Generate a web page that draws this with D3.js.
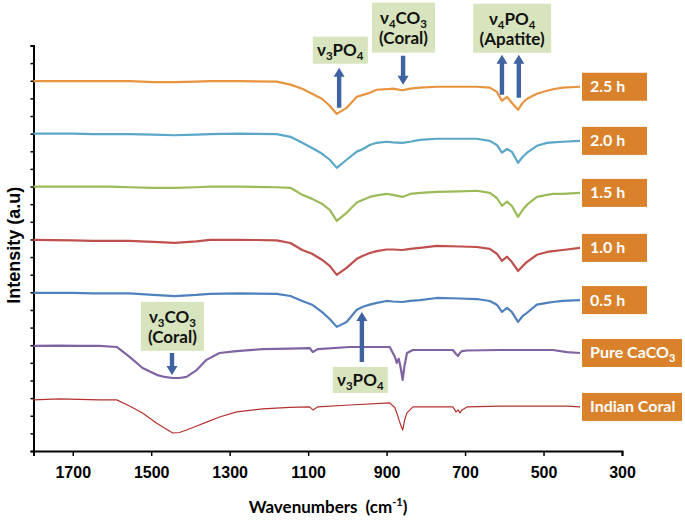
<!DOCTYPE html>
<html><head><meta charset="utf-8">
<script src="https://cdn.jsdelivr.net/npm/d3@7"></script>
<style>body{margin:0;background:#fff}svg{display:block}</style>
</head><body>
<svg id="chart" width="685" height="527"></svg>
<script>
// ---------- DATA ----------
const wnApatite = [1800,1700,1650,1605,1555,1495,1440,1385,1350,1275,1180,1145,1115,1090,1065,1045,1027,1002,976,960,943,925,900,884,860,840,815,772,713,670,637,619,606,593,581,565,553,542,517,491,476,451,407];
const h25 = [20.98,20.98,20.98,20.98,20.98,20.92,20.92,20.95,20.98,20.98,20.95,20.78,20.55,20.26,19.98,19.58,19.12,19.46,20.09,20.20,20.32,20.49,20.52,20.55,20.46,20.55,20.61,20.66,20.66,20.66,20.61,20.37,19.87,20.09,19.75,19.35,19.75,19.98,20.26,20.43,20.52,20.61,20.66];
const h20 = [18.00,18.00,17.97,17.97,17.97,17.94,17.91,17.94,17.97,18.00,17.97,17.82,17.48,17.19,16.87,16.52,16.06,16.52,16.98,17.13,17.36,17.48,17.54,17.51,17.48,17.54,17.65,17.71,17.71,17.71,17.59,17.36,16.92,17.13,16.98,16.35,16.69,16.92,17.31,17.48,17.51,17.54,17.59];
const h15 = [14.99,14.99,14.99,14.99,14.96,14.93,14.93,14.96,14.99,14.99,14.96,14.93,14.53,14.30,14.03,13.68,13.05,13.51,14.09,14.25,14.41,14.50,14.58,14.53,14.41,14.58,14.64,14.70,14.73,14.76,14.64,14.35,13.91,14.14,13.91,13.28,13.68,13.97,14.41,14.53,14.58,14.58,14.64];
const h10 = [11.98,11.95,11.92,11.92,11.92,11.86,11.80,11.89,11.98,11.98,11.95,11.80,11.40,11.19,10.85,10.50,9.99,10.39,10.90,11.08,11.23,11.34,11.43,11.43,11.40,11.46,11.52,11.63,11.60,11.57,11.46,11.19,10.79,11.02,10.73,10.21,10.50,10.73,11.13,11.29,11.34,11.40,11.52];
const h05 = [8.97,8.97,8.94,8.94,8.94,8.85,8.79,8.85,8.91,8.94,8.91,8.79,8.51,8.30,7.89,7.49,7.04,7.32,8.01,8.18,8.30,8.40,8.51,8.48,8.45,8.51,8.56,8.68,8.65,8.62,8.51,8.30,7.89,8.12,7.89,7.32,7.66,7.84,8.30,8.40,8.45,8.51,8.56];

const wnCarbonate = [1800,1734,1683,1632,1588,1555,1522,1486,1466,1445,1428,1410,1384,1359,1326,1282,1216,1147,1096,1088,1076,994,892,879,874,869,864,859,854,848,833,731,723,718,713,708,695,611,476,440,407];
const pureCaCO3 = [5.96,5.98,5.96,5.96,5.90,5.34,4.71,4.32,4.20,4.14,4.14,4.20,4.59,5.17,5.56,5.67,5.78,5.81,5.84,5.61,5.78,5.90,5.90,5.34,5.00,5.23,4.71,4.03,4.88,5.56,5.73,5.73,5.50,5.39,5.56,5.67,5.70,5.73,5.73,5.61,5.56];
const indianCoral = [2.90,2.96,2.93,2.90,2.90,2.55,2.16,1.58,1.31,1.02,1.05,1.19,1.42,1.64,1.93,2.22,2.39,2.47,2.50,2.33,2.50,2.61,2.73,2.45,2.16,1.81,1.47,1.19,1.76,2.16,2.50,2.50,2.22,2.33,2.16,2.33,2.50,2.55,2.55,2.55,2.50];

const seriesLabels = ["2.5 h","2.0 h","1.5 h","1.0 h","0.5 h","Pure CaCO3","Indian Coral"];
const xTickValues = [1700,1500,1300,1100,900,700,500,300];

// ---------- STYLE / LAYOUT ----------
const seriesDefs = [
  {wn: wnApatite, v: h25, color: "#e8943f", w: 2.2},
  {wn: wnApatite, v: h20, color: "#5aa7c8", w: 2.2},
  {wn: wnApatite, v: h15, color: "#9bbb59", w: 2.2},
  {wn: wnApatite, v: h10, color: "#c0504d", w: 2.2},
  {wn: wnApatite, v: h05, color: "#4f81bd", w: 2.2},
  {wn: wnCarbonate, v: pureCaCO3, color: "#8064a2", w: 2.2},
  {wn: wnCarbonate, v: indianCoral, color: "#b5302f", w: 1.2}
];
const labelBoxColor = "#d9822b";
const annoFill = "#d7e4bd";
const arrowColor = "#3f62a0";
const FONT = "Lato, 'Open Sans', sans-serif";

const svg = d3.select("#chart");
const x = d3.scaleLinear().domain([1800, 300]).range([33.5, 622]);
const y = d3.scaleLinear().domain([0, 23]).range([451, 45.5]);

// axes
const xAxis = d3.axisBottom(x).tickValues(xTickValues).tickSize(5).tickPadding(11).tickFormat(d3.format("d"));
const gx = svg.append("g").attr("transform", `translate(0,${y(0)})`).call(xAxis);
gx.select(".domain").attr("stroke", "#000").attr("stroke-width", 2);
gx.selectAll(".tick line").attr("stroke", "#000").attr("stroke-width", 1.5);
gx.selectAll(".tick text").attr("font-family", "'Liberation Sans', Arial, sans-serif")
  .attr("font-weight", "bold").attr("font-size", 16).attr("fill", "#000");

const yAxis = d3.axisLeft(y).tickValues(d3.range(0, 24, 1)).tickSize(3).tickFormat("");
const gy = svg.append("g").attr("transform", `translate(${x(1800)},0)`).call(yAxis);
gy.select(".domain").attr("stroke", "#000").attr("stroke-width", 2);
gy.selectAll(".tick line").attr("stroke", "#000").attr("stroke-width", 1.5);
gy.selectAll(".tick text").remove();

// axis titles
svg.append("text")
  .attr("transform", `translate(14,${(y(0)+y(23))/2 - 3}) rotate(-90)`)
  .attr("text-anchor", "middle").attr("dominant-baseline", "central")
  .attr("font-family", "'Liberation Sans', Arial, sans-serif").attr("font-weight", "bold")
  .attr("font-size", 18).text("Intensity (a.u)");

const xt = svg.append("text").attr("x", 328).attr("y", 513)
  .attr("text-anchor", "middle")
  .attr("font-family", FONT).attr("font-weight", "bold")
  .attr("font-size", 17);
xt.append("tspan").attr("font-size", 17).text("Wavenumbers");
xt.append("tspan").attr("font-size", 17).attr("dx", 8).text("(cm");
xt.append("tspan").attr("font-size", 11).attr("dy", -7).text("-1");
xt.append("tspan").attr("font-size", 17).attr("dy", 7).text(")");

// series
const line = d3.line().x(d => x(d[0])).y(d => y(d[1]));
seriesDefs.forEach(s => {
  const pts = s.wn.map((w, i) => [w, s.v[i]]);
  svg.append("path").datum(pts).attr("d", line)
    .attr("fill", "none").attr("stroke", s.color).attr("stroke-width", s.w)
    .attr("stroke-linejoin", "round");
});

// helper: text with subscripts; parts = [[text, isSub], ...]
function richText(sel, parts, size, subSize) {
  let shift = 0;
  parts.forEach(p => {
    const ts = sel.append("tspan");
    if (p[1]) {
      ts.attr("font-size", subSize).attr("dy", 4 - shift);
      shift = 4;
    } else {
      ts.attr("font-size", size);
      if (shift) { ts.attr("dy", -shift); shift = 0; }
    }
    ts.text(p[0]);
  });
}

// right-side labels
const labelParts = [
  [["2.5 h",0]], [["2.0 h",0]], [["1.5 h",0]], [["1.0 h",0]], [["0.5 h",0]],
  [["Pure CaCO",0],["3",1]], [["Indian Coral",0]]
];
seriesDefs.forEach((s, i) => {
  const lastW = s.wn[s.wn.length-1], lastV = s.v[s.v.length-1];
  const bx = x(lastW) + 2, cy = y(lastV);
  const bw = i >= 5 ? 100 : 65, bh = 28;
  svg.append("rect").attr("x", bx).attr("y", cy - bh/2).attr("width", bw).attr("height", bh)
    .attr("fill", labelBoxColor);
  const t = svg.append("text").attr("x", bx + 8).attr("y", cy + 5.5)
    .attr("font-family", FONT).attr("font-weight", "bold")
    .attr("font-size", 16).attr("fill", "#fff");
  richText(t, labelParts[i], 16, 11);
});

// annotations (wavenumber, intensity positions)
const annotations = [
  {wn: 1018, top: 23.50, w: 55, h: 27, lines: [[["\u03bd",0],["3",1],["PO",0],["4",1]]],
   arrows: [{wn: 1021, from: 19.47, to: 21.74}]},
  {wn: 857, top: 25.43, w: 63, h: 50, lines: [[["\u03bd",0],["4",1],["CO",0],["3",1]], [["(Coral)",0]]],
   arrows: [{wn: 858, from: 22.42, to: 20.77}]},
  {wn: 580, top: 25.37, w: 78, h: 49, lines: [[["\u03bd",0],["4",1],["PO",0],["4",1]], [["(Apatite)",0]]],
   arrows: [{wn: 606, from: 20.20, to: 22.47}, {wn: 563, from: 20.03, to: 22.47}]},
  {wn: 1446, top: 8.46, w: 63, h: 49, lines: [[["\u03bd",0],["3",1],["CO",0],["3",1]], [["(Coral)",0]]],
   arrows: [{wn: 1447, from: 5.56, to: 4.31}]},
  {wn: 967, top: 4.77, w: 55, h: 26, lines: [[["\u03bd",0],["3",1],["PO",0],["4",1]]],
   arrows: [{wn: 963, from: 5.05, to: 7.89}]}
];

function drawArrow(px, y0, y1) {
  const dir = y1 < y0 ? -1 : 1; // -1 = pointing up
  const headL = 9, headW = 5.5, shaft = 2.2;
  const yb = y1 - dir * headL;
  const d = `M${px-shaft},${y0} L${px-shaft},${yb} L${px-headW},${yb} L${px},${y1} L${px+headW},${yb} L${px+shaft},${yb} L${px+shaft},${y0} Z`;
  svg.append("path").attr("d", d).attr("fill", arrowColor);
}

annotations.forEach(a => {
  const cx = x(a.wn), ty = y(a.top);
  svg.append("rect").attr("x", cx - a.w/2).attr("y", ty).attr("width", a.w).attr("height", a.h)
    .attr("fill", annoFill);
  const n = a.lines.length;
  a.lines.forEach((ln, i) => {
    const baseY = n === 1 ? ty + 19.5 : ty + 21 + i * 20.5;
    const t = svg.append("text").attr("x", cx).attr("y", baseY).attr("text-anchor", "middle")
      .attr("font-family", FONT).attr("font-weight", "bold")
      .attr("font-size", 17).attr("fill", "#111");
    richText(t, ln, 17, 11.5);
  });
  a.arrows.forEach(ar => drawArrow(x(ar.wn), y(ar.from), y(ar.to)));
});
</script>
</body></html>
